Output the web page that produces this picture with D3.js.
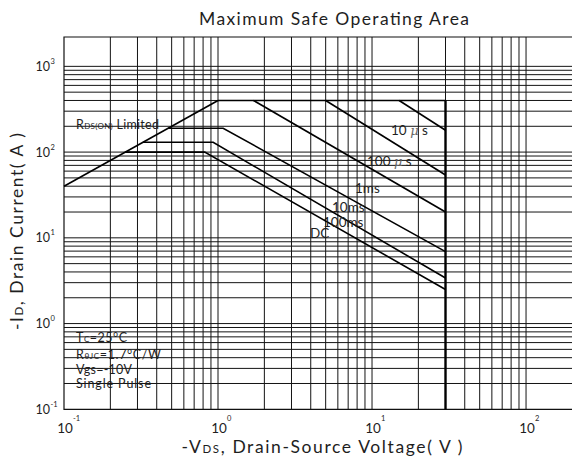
<!DOCTYPE html>
<html>
<head>
<meta charset="utf-8">
<script src="https://cdn.jsdelivr.net/npm/d3@7"></script>
<style>
  body { margin: 0; background: #fff; }
  svg { display: block; }
  text { font-family: Lato, "Noto Sans", sans-serif; fill: #1e1e1e; }
</style>
</head>
<body>
<svg id="chart" width="572" height="465"></svg>
<script>
// ---- axis extents ----
const xDomain = [0.1, 200];      // -VDS (V)
const yDomain = [0.1, 2200];     // -ID (A)
const xGridMax = 100;
const yGridMax = 1000;
const xTickExps = [-1, 0, 1, 2];
const yTickExps = [-1, 0, 1, 2, 3];

// ---- RDS(on) limit, current ceiling and breakdown limit ----
const rdsV = [0.1, 1];
const rdsI = [40, 400];
const ceilingV = [1, 30];
const ceilingI = [400, 400];
const bvdssV = [30, 30];
const bvdssI = [400, 0.1];

// ---- pulse-width boundaries ----
const pulseNames = ["10", "100", "1ms", "10ms", "100ms", "DC"];
const pulseV = [
  [15, 30],
  [5, 30],
  [1.7, 30],
  [0.475, 1.08, 30],
  [0.325, 0.93, 30],
  [0.25, 0.82, 30]
];
const pulseI = [
  [400, 180],
  [400, 54],
  [400, 20],
  [190, 190, 6.9],
  [130, 130, 3.4],
  [100, 100, 2.5]
];

// ---- test conditions ----
const condLines = [
  [["T", ""], ["C", "sub"], ["=25°C", ""]],
  [["R", ""], ["θJC", "sub"], ["=1.7°C/W", ""]],
  [["Vgs=-10V", ""]],
  [["Single Pulse", ""]]
];

// ---- layout ----
const svg = d3.select("#chart");
const plotL = 64, plotT = 37, plotB = 409.3, plotR = 572.4;

const x = d3.scaleLog().domain(xDomain).range([plotL, plotR]);
const y = d3.scaleLog().domain(yDomain).range([plotB, plotT]);

// grid
const grid = svg.append("g").attr("stroke", "#141414").attr("stroke-width", 1);
const xGrid = x.ticks().filter(v => v > xDomain[0] * 1.001 && v <= xGridMax * 1.001);
const yGrid = y.ticks().filter(v => v > yDomain[0] * 1.001 && v <= yGridMax * 1.001);

grid.selectAll("line.v").data(xGrid).join("line")
  .attr("x1", d => x(d)).attr("x2", d => x(d))
  .attr("y1", plotT).attr("y2", plotB);
grid.selectAll("line.h").data(yGrid).join("line")
  .attr("x1", plotL).attr("x2", plotR)
  .attr("y1", d => y(d)).attr("y2", d => y(d));

// frame (left, top, bottom)
svg.append("path")
  .attr("d", `M${plotR},${plotT}H${plotL}V${plotB}H${plotR}`)
  .attr("fill", "none").attr("stroke", "#111").attr("stroke-width", 1.2);

// limit lines
const line = d3.line().x(d => x(d[0])).y(d => y(d[1]));
const curves = svg.append("g").attr("fill", "none").attr("stroke", "#000");

curves.append("path").attr("d", line(d3.zip(rdsV, rdsI))).attr("stroke-width", 1.6);
curves.append("path").attr("d", line(d3.zip(ceilingV, ceilingI))).attr("stroke-width", 1.6);
curves.append("path").attr("d", line(d3.zip(bvdssV, bvdssI))).attr("stroke-width", 2.4);
pulseV.forEach((vs, i) => {
  curves.append("path").attr("d", line(d3.zip(vs, pulseI[i]))).attr("stroke-width", 1.6);
});

// pulse labels (left edge, baseline)
const labelPos = [[391, 135], [367, 166], [355, 193], [332, 211.5], [323, 226.5], [310, 238]];
pulseNames.forEach((name, i) => {
  const t = svg.append("text")
    .attr("x", labelPos[i][0]).attr("y", labelPos[i][1])
    .attr("font-size", 13.5);
  if (i < 2) {
    t.append("tspan").text(name + " ");
    t.append("tspan").attr("font-style", "italic").attr("fill", "#666")
      .attr("font-family", "'DejaVu Serif', serif").attr("font-size", 13).text("μ");
    t.append("tspan").text(" s");
  } else {
    t.text(name);
  }
});

// RDS(on) label
const rl = svg.append("text").attr("x", 76).attr("y", 129).attr("font-size", 12.5)
  .attr("textLength", 83).attr("lengthAdjust", "spacing");
rl.append("tspan").text("R");
rl.append("tspan").attr("font-size", 8).text("DS(ON)");
rl.append("tspan").text(" Limited");

// condition block
const condBase = [342, 358.5, 373.5, 388];
const condWidth = [51, 85, 56, 75];
condLines.forEach((parts, i) => {
  const t = svg.append("text").attr("x", 76).attr("y", condBase[i]).attr("font-size", 12.5)
    .attr("textLength", condWidth[i]).attr("lengthAdjust", "spacing");
  parts.forEach(([s, kind]) => {
    const sp = t.append("tspan").text(s);
    if (kind === "sub") sp.attr("font-size", 8);
  });
});

// tick labels
yTickExps.forEach(e => {
  const v = Math.pow(10, e);
  svg.append("text").attr("x", 50).attr("y", y(v) + 4.5)
    .attr("text-anchor", "end").attr("font-size", 12.5).text("10");
  svg.append("text").attr("x", 50.5).attr("y", y(v) - 2.5)
    .attr("font-size", 7.5).text(String(e));
});
xTickExps.forEach(e => {
  const v = Math.pow(10, e);
  svg.append("text").attr("x", x(v) + 1).attr("y", 432.5)
    .attr("text-anchor", "middle").attr("font-size", 13.5).text("10");
  svg.append("text").attr("x", x(v) + 9).attr("y", 421)
    .attr("font-size", 7.5).text(String(e));
});

// title
svg.append("text").attr("x", 334).attr("y", 25).attr("text-anchor", "middle")
  .attr("font-size", 17.5).attr("textLength", 270).attr("lengthAdjust", "spacing")
  .text("Maximum Safe Operating Area");

// x axis title
const xt = svg.append("text").attr("x", 322).attr("y", 453).attr("text-anchor", "middle")
  .attr("font-size", 17.5).attr("textLength", 281).attr("lengthAdjust", "spacing");
xt.append("tspan").text("-V");
xt.append("tspan").attr("font-size", 11.5).text("DS");
xt.append("tspan").text(", Drain-Source Voltage( V )");

// y axis title
const yt = svg.append("text").attr("transform", "translate(23,231.5) rotate(-90)")
  .attr("text-anchor", "middle").attr("font-size", 17.5)
  .attr("textLength", 197).attr("lengthAdjust", "spacing");
yt.append("tspan").text("-I");
yt.append("tspan").attr("font-size", 11.5).text("D");
yt.append("tspan").text(", Drain Current( A )");
</script>
</body>
</html>
